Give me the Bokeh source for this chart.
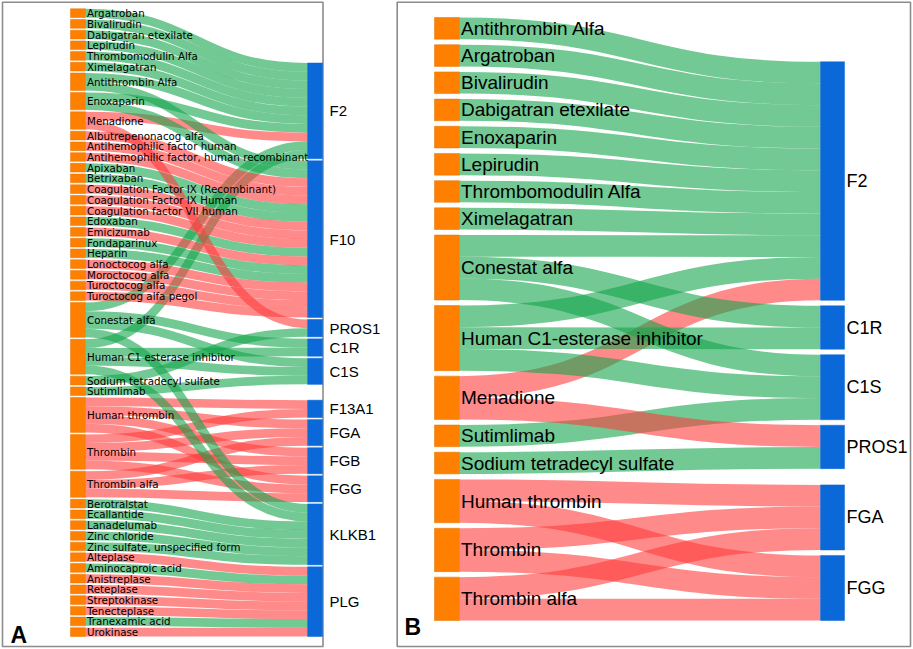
import numpy as np
from bokeh.plotting import figure
from bokeh.models import Range1d, ColumnDataSource
from bokeh.core.properties import value
from bokeh.embed import file_html
from bokeh.resources import INLINE

# ---------------- Panel A data ----------------
a_drugs = [
    "Argatroban", "Bivalirudin", "Dabigatran etexilate", "Lepirudin", "Thrombomodulin Alfa",
    "Ximelagatran", "Antithrombin Alfa", "Enoxaparin", "Menadione", "Albutrepenonacog alfa",
    "Antihemophilic factor human", "Antihemophilic factor, human recombinant", "Apixaban",
    "Betrixaban", "Coagulation Factor IX (Recombinant)", "Coagulation Factor IX Human",
    "Coagulation factor VII human", "Edoxaban", "Emicizumab", "Fondaparinux", "Heparin",
    "Lonoctocog alfa", "Moroctocog alfa", "Turoctocog alfa", "Turoctocog alfa pegol",
    "Conestat alfa", "Human C1 esterase inhibitor", "Sodium tetradecyl sulfate", "Sutimlimab",
    "Human thrombin", "Thrombin", "Thrombin alfa", "Berotralstat", "Ecallantide", "Lanadelumab",
    "Zinc chloride", "Zinc sulfate, unspecified form", "Alteplase", "Aminocaproic acid",
    "Anistreplase", "Reteplase", "Streptokinase", "Tenecteplase", "Tranexamic acid", "Urokinase",
]
a_targets = ["F2", "F10", "PROS1", "C1R", "C1S", "F13A1", "FGA", "FGB", "FGG", "KLKB1", "PLG"]

a_F2 = ["Argatroban", "Bivalirudin", "Dabigatran etexilate", "Lepirudin", "Thrombomodulin Alfa",
        "Ximelagatran", "Antithrombin Alfa", "Enoxaparin", "Menadione", "Conestat alfa",
        "Human C1 esterase inhibitor"]
a_F10 = ["Antithrombin Alfa", "Enoxaparin", "Albutrepenonacog alfa", "Antihemophilic factor human",
         "Antihemophilic factor, human recombinant", "Apixaban", "Betrixaban",
         "Coagulation Factor IX (Recombinant)", "Coagulation Factor IX Human",
         "Coagulation factor VII human", "Edoxaban", "Emicizumab", "Fondaparinux", "Heparin",
         "Lonoctocog alfa", "Moroctocog alfa", "Turoctocog alfa", "Turoctocog alfa pegol"]
a_PROS1 = ["Menadione", "Sodium tetradecyl sulfate"]
a_C1R = ["Conestat alfa", "Human C1 esterase inhibitor"]
a_C1S = ["Conestat alfa", "Human C1 esterase inhibitor", "Sutimlimab"]
a_F13A1 = ["Human thrombin", "Thrombin"]
a_FGA = ["Human thrombin", "Thrombin", "Thrombin alfa"]
a_FGB = ["Human thrombin", "Thrombin", "Thrombin alfa"]
a_FGG = ["Human thrombin", "Thrombin", "Thrombin alfa"]
a_KLKB1 = ["Conestat alfa", "Human C1 esterase inhibitor", "Berotralstat", "Ecallantide",
           "Lanadelumab", "Zinc chloride", "Zinc sulfate, unspecified form"]
a_PLG = ["Alteplase", "Aminocaproic acid", "Anistreplase", "Reteplase", "Streptokinase",
         "Tenecteplase", "Tranexamic acid", "Urokinase"]
# link type per target, in the same order: G = inhibition (green), R = activation (red)
a_types = {
    "F2": "GGGGGGGGRGG",
    "F10": "GGRRRGGRRRGRGGRRRR",
    "PROS1": "RG",
    "C1R": "GG",
    "C1S": "GGG",
    "F13A1": "RR",
    "FGA": "RRR",
    "FGB": "RRR",
    "FGG": "RRR",
    "KLKB1": "GGGGGGG",
    "PLG": "RGRRRRGR",
}
a_links = {"F2": a_F2, "F10": a_F10, "PROS1": a_PROS1, "C1R": a_C1R, "C1S": a_C1S,
           "F13A1": a_F13A1, "FGA": a_FGA, "FGB": a_FGB, "FGG": a_FGG,
           "KLKB1": a_KLKB1, "PLG": a_PLG}

# ---------------- Panel B data ----------------
b_drugs = ["Antithrombin Alfa", "Argatroban", "Bivalirudin", "Dabigatran etexilate", "Enoxaparin",
           "Lepirudin", "Thrombomodulin Alfa", "Ximelagatran", "Conestat alfa",
           "Human C1-esterase inhibitor", "Menadione", "Sutimlimab", "Sodium tetradecyl sulfate",
           "Human thrombin", "Thrombin", "Thrombin alfa"]
b_targets = ["F2", "C1R", "C1S", "PROS1", "FGA", "FGG"]
b_F2 = ["Antithrombin Alfa", "Argatroban", "Bivalirudin", "Dabigatran etexilate", "Enoxaparin",
        "Lepirudin", "Thrombomodulin Alfa", "Ximelagatran", "Conestat alfa",
        "Human C1-esterase inhibitor", "Menadione"]
b_C1R = ["Conestat alfa", "Human C1-esterase inhibitor"]
b_C1S = ["Conestat alfa", "Human C1-esterase inhibitor", "Sutimlimab"]
b_PROS1 = ["Menadione", "Sodium tetradecyl sulfate"]
b_FGA = ["Human thrombin", "Thrombin", "Thrombin alfa"]
b_FGG = ["Human thrombin", "Thrombin", "Thrombin alfa"]
b_types = {"F2": "GGGGGGGGGGR", "C1R": "GG", "C1S": "GGG", "PROS1": "RG", "FGA": "RRR", "FGG": "RRR"}
b_links = {"F2": b_F2, "C1R": b_C1R, "C1S": b_C1S, "PROS1": b_PROS1, "FGA": b_FGA, "FGG": b_FGG}

# ---------------- styles ----------------
GREEN = "#14a54b"
RED = "#ff3c3c"
ORANGE = "#ff8000"
BLUE = "#0a68d8"
LINK_ALPHA = 0.6
FRAME = "#8c8c8c"


def sankey_layout(drugs, targets, links, types, y0, y1, pad):
    lk = []
    for t in targets:
        for d, ty in zip(links[t], types[t]):
            lk.append((d, t, ty))
    nval_l = {d: sum(1 for l in lk if l[0] == d) for d in drugs}
    nval_r = {t: sum(1 for l in lk if l[1] == t) for t in targets}
    ky = (y1 - y0 - (len(drugs) - 1) * pad) / sum(nval_l.values())
    ltop = {}
    y = y0
    for d in drugs:
        ltop[d] = y
        y += nval_l[d] * ky + pad
    lcen = {d: ltop[d] + nval_l[d] * ky / 2 for d in drugs}
    # right nodes: centred on their sources, then collisions resolved
    rtop = {}
    prev = y0
    for t in targets:
        ideal = np.mean([lcen[l[0]] for l in lk if l[1] == t]) - nval_r[t] * ky / 2
        rtop[t] = max(ideal, prev)
        prev = rtop[t] + nval_r[t] * ky + pad
    over = prev - pad - y1
    if over > 0:
        nxt = y1
        for t in reversed(targets):
            h = nval_r[t] * ky
            if rtop[t] + h > nxt:
                rtop[t] = nxt - h
            nxt = rtop[t] - pad
    # link positions
    sy, ty_ = {}, {}
    for d in drugs:
        mine = sorted([l for l in lk if l[0] == d], key=lambda l: rtop[l[1]])
        y = ltop[d]
        for l in mine:
            sy[l] = y + ky / 2
            y += ky
    for t in targets:
        mine = sorted([l for l in lk if l[1] == t], key=lambda l: ltop[l[0]])
        y = rtop[t]
        for l in mine:
            ty_[l] = y + ky / 2
            y += ky
    return lk, ky, ltop, nval_l, rtop, nval_r, sy, ty_


def draw_panel(p, drugs, targets, links, types, xl, wl, xr, wr, y0, y1, pad,
               lfont, lsize, rfont, rsize, rlabel_dx):
    lk, ky, ltop, nval_l, rtop, nval_r, sy, ty_ = sankey_layout(drugs, targets, links, types, y0, y1, pad)
    x0 = xl + wl
    x1 = xr
    xm = (x0 + x1) / 2
    src = ColumnDataSource(dict(
        x0=[x0] * len(lk), y0=[sy[l] for l in lk], x1=[x1] * len(lk), y1=[ty_[l] for l in lk],
        cx0=[xm] * len(lk), cy0=[sy[l] for l in lk], cx1=[xm] * len(lk), cy1=[ty_[l] for l in lk],
        w=[ky] * len(lk), c=[GREEN if l[2] == "G" else RED for l in lk]))
    p.bezier(x0="x0", y0="y0", x1="x1", y1="y1", cx0="cx0", cy0="cy0", cx1="cx1", cy1="cy1",
             line_color="c", line_width="w", line_alpha=LINK_ALPHA, source=src)
    # nodes
    p.quad(left=[xl] * len(drugs), right=[xl + wl] * len(drugs),
           top=[ltop[d] for d in drugs], bottom=[ltop[d] + nval_l[d] * ky for d in drugs],
           fill_color=ORANGE, line_color="#e07000", line_width=0.5)
    p.quad(left=[xr] * len(targets), right=[xr + wr] * len(targets),
           top=[rtop[t] for t in targets], bottom=[rtop[t] + nval_r[t] * ky for t in targets],
           fill_color=BLUE, line_color=BLUE, line_width=0.5)
    p.text(x=[xl + wl + 1.5] * len(drugs), y=[ltop[d] + nval_l[d] * ky / 2 for d in drugs], text=drugs,
           text_font=value(lfont), text_font_size=value(lsize), text_baseline="middle",
           text_align="left", text_color="black")
    p.text(x=[xr + wr + rlabel_dx] * len(targets), y=[rtop[t] + nval_r[t] * ky / 2 for t in targets],
           text=targets, text_font=value(rfont), text_font_size=value(rsize),
           text_baseline="middle", text_align="left", text_color="black")


W, H = 913, 649
p = figure(width=W, height=H, x_range=Range1d(0, W), y_range=Range1d(H, 0),
           output_backend="svg", toolbar_location=None, min_border=0,
           x_axis_location=None, y_axis_location=None, outline_line_color=None)
p.grid.visible = False
p.background_fill_color = "white"
p.border_fill_color = "white"

# panel frames
p.quad(left=[2.0, 396.7], right=[322.5, 910.0], top=[1.7, 1.7], bottom=[646.0, 646.0],
       fill_alpha=0, line_color=FRAME, line_width=1.6)

draw_panel(p, a_drugs, a_targets, a_links, a_types, xl=70, wl=15, xr=307, wr=15,
           y0=8.3, y1=636.0, pad=2.0, lfont="DejaVu Sans", lsize="10.3px",
           rfont="Liberation Sans", rsize="15px", rlabel_dx=7)
draw_panel(p, b_drugs, b_targets, b_links, b_types, xl=434, wl=25, xr=820, wr=24,
           y0=17.0, y1=620.0, pad=5.5, lfont="Liberation Sans", lsize="19px",
           rfont="Liberation Sans", rsize="18px", rlabel_dx=2)

p.text(x=[10, 404], y=[634, 626], text=["A", "B"], text_font=value("Liberation Sans"),
       text_font_size=value("23px"), text_font_style="bold", text_baseline="alphabetic",
       text_align="left", text_color="black")

open("out.html", "w").write(file_html(p, INLINE))
